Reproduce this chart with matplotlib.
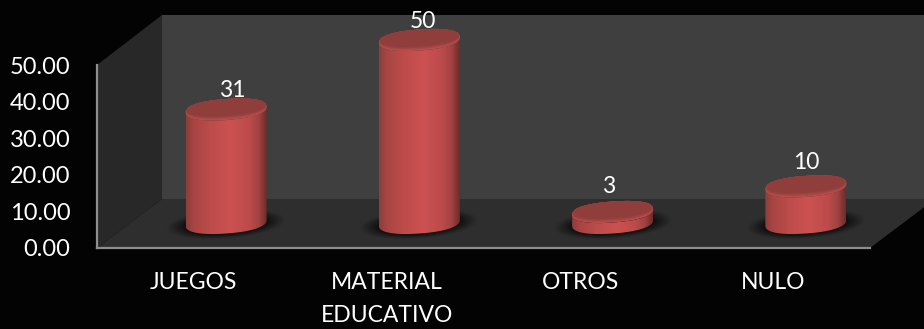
import numpy as np
import matplotlib
matplotlib.use('Agg')
import matplotlib.pyplot as plt
from matplotlib.colors import LinearSegmentedColormap
from matplotlib.patches import Polygon
from matplotlib.transforms import IdentityTransform

# Chart values
categories = ['JUEGOS', 'MATERIAL\nEDUCATIVO', 'OTROS', 'NULO']
values = [31, 50, 3, 10]
y_ticks = [0, 10, 20, 30, 40, 50]

# value label placement relative to each cap (pixels)
label_nudge = [(6, 19), (4, 18), (-4, 26), (0, 24)]

plt.rcParams['font.family'] = ['Lato', 'DejaVu Sans']

W, H = 924, 329
fig = plt.figure(figsize=(W / 100, H / 100), dpi=100, facecolor='#030303')
# front plane of the 3D box
ax = fig.add_axes([97 / W, (H - 248) / H, 773 / W, 183 / H])
ax.set_xlim(-0.5, 3.5)
ax.set_ylim(0, 50)
ax.patch.set_visible(False)
ax.set_xticks(range(len(categories)))
ax.set_xticklabels(categories, linespacing=1.7)
ax.set_yticks(y_ticks)
ax.set_yticklabels([f'{v:.2f}' for v in y_ticks])
ax.tick_params(axis='both', length=0, colors='white')
ax.tick_params(axis='y', pad=19, labelsize=17)
ax.tick_params(axis='x', pad=17, labelsize=16.5)
for side in ['top', 'right']:
    ax.spines[side].set_visible(False)
for side in ['left', 'bottom']:
    ax.spines[side].set_color('#8e8e8e')
    ax.spines[side].set_linewidth(1.6)

fig.canvas.draw()
px = IdentityTransform()

# depth of the box, in pixels
depth_x, depth_y = 65, 49
x0, y0 = ax.transData.transform((-0.5, 0))
x1, _ = ax.transData.transform((3.5, 0))
_, y50 = ax.transData.transform((-0.5, 50))


def face(points, color):
    ax.add_patch(Polygon(points, closed=True, facecolor=color, edgecolor='none',
                         transform=px, zorder=0.5, clip_on=False))


# back wall, side wall, floor
face([(x0 + depth_x, y0 + depth_y), (x1 + depth_x, y0 + depth_y),
      (x1 + depth_x, y50 + depth_y + 1), (x0 + depth_x, y50 + depth_y + 1)], '#3f3f3f')
face([(x0, y0), (x0 + depth_x, y0 + depth_y),
      (x0 + depth_x, y50 + depth_y + 1), (x0, y50)], '#282828')
face([(x0, y0), (x1, y0), (x1 + depth_x, y0 + depth_y), (x0 + depth_x, y0 + depth_y)], '#2e2e2e')

body_cmap = LinearSegmentedColormap.from_list(
    'body', [(0, '#8e3d3b'), (0.1, '#a84543'), (0.3, '#bd4c4a'), (0.55, '#cb5251'),
             (0.78, '#bc4b4a'), (0.9, '#a04341'), (1, '#6d2b2a')])

a, b = 40.5, 10.5   # cylinder ellipse radii
shear = 0.07        # the ellipses lean up to the right
t_low = np.linspace(np.pi, 2 * np.pi, 80)
t_all = np.linspace(0, 2 * np.pi, 160)


def ellipse(cx, cy, t, ra=a, rb=b):
    # slightly squared-off ellipse so the ends stay blunt under the shear
    c, s = np.cos(t), np.sin(t)
    ex = np.sign(c) * np.abs(c) ** 0.88
    ey = np.sign(s) * np.abs(s) ** 0.88
    return np.column_stack([cx + ra * ex, cy + rb * ey + shear * ra * ex])


for i, v in enumerate(values):
    sx, sy = ax.transData.transform((i, v))
    _, base_y = ax.transData.transform((i, 0))
    cx = sx + depth_x / 2
    cy_base = base_y + 25
    cy_top = sy + 25

    # soft shadow on the floor
    xs = np.arange(cx - 75, cx + 80)
    ys = np.arange(cy_base - 30, cy_base + 30)
    gx, gy = np.meshgrid(xs, ys)
    d = ((gx - cx) / 60) ** 2 + ((gy - cy_base + 1 - 0.07 * (gx - cx)) / 15) ** 2
    shadow = np.zeros(d.shape + (4,))
    shadow[..., 3] = 0.9 * np.clip(1.4 - d * 1.4, 0, 1) ** 1.2
    ax.imshow(shadow, extent=(xs[0], xs[-1], ys[0], ys[-1]), origin='lower',
              transform=px, aspect='auto', zorder=1, clip_on=False, interpolation='bilinear')

    # cylinder side with a horizontal gradient
    outline = np.vstack([ellipse(cx, cy_base, t_low), ellipse(cx, cy_top, t_low)[::-1]])
    clip = Polygon(outline, closed=True, transform=px, facecolor='none', edgecolor='none')
    ax.add_patch(clip)
    grad = np.linspace(0, 1, 256).reshape(1, -1)
    img = ax.imshow(grad, cmap=body_cmap, extent=(cx - a, cx + a, cy_base - 20, cy_top + 20),
                    transform=px, aspect='auto', zorder=2, interpolation='bilinear')
    img.set_clip_box(fig.bbox)
    img.set_clip_path(clip)

    # top cap, lighter around the front rim
    ax.fill(*ellipse(cx, cy_top, t_all).T, color='#b84e4c', transform=px, zorder=3, clip_on=False, lw=0)
    for k, col in enumerate(['#ad4947', '#a24543', '#984140', '#903e3c']):
        ax.fill(*ellipse(cx, cy_top + 0.6 + 0.5 * k, t_all, a - 0.2 - 0.3 * k, b - 0.6 - 0.5 * k).T,
                color=col, transform=px, zorder=3.1 + k * 0.1, clip_on=False, lw=0)

    # value label above the cap
    dx, dy = label_nudge[i]
    ax.text(cx + dx, cy_top + dy, str(v), color='white', fontsize=16.5, ha='center',
            va='center', transform=px, zorder=5, clip_on=False)

ax.set_xlim(-0.5, 3.5)
ax.set_ylim(0, 50)

fig.savefig('out.png', dpi=100, facecolor=fig.get_facecolor())
